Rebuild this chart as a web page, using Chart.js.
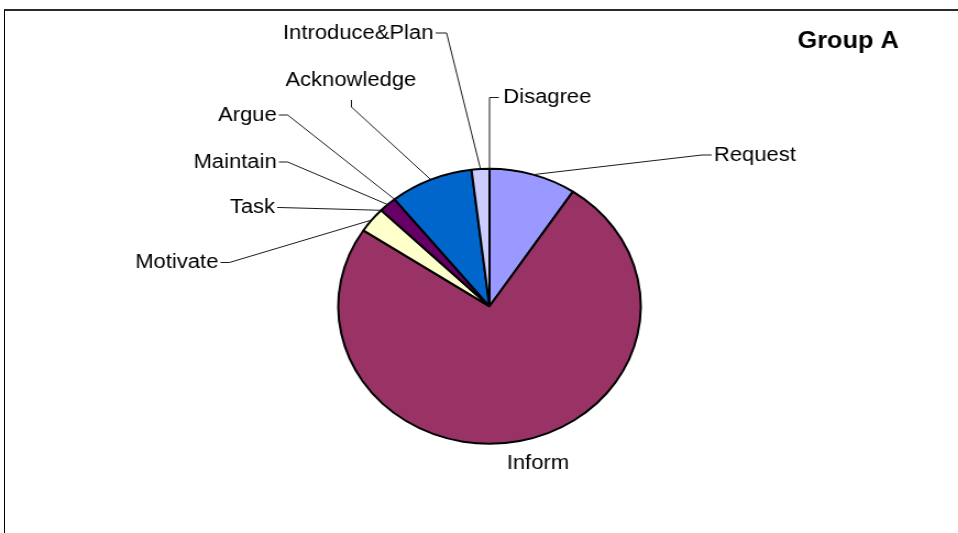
<!DOCTYPE html>
<html>
<head>
    <title>Group A</title>
    <script src="https://cdn.jsdelivr.net/npm/chart.js"></script>
    <style>
        body {
            margin: 0;
            padding: 0;
            overflow: hidden;
            background-color: #fff;
            font-family: 'Liberation Sans', Arial, sans-serif;
        }
        /* plot frame: only the top and left edges show */
        #frame {
            position: absolute;
            left: 4px;
            top: 9px;
            width: 960px;
            height: 530px;
            border-top: 2px solid #2a2a2a;
            border-left: 1px solid #000;
        }
        /* the pie is drawn in a narrower box and widened, so it comes out oval */
        #chart-box {
            position: absolute;
            left: 0;
            top: 0;
            width: 871px;
            height: 533px;
            transform: scaleX(1.1);
            transform-origin: 0 0;
        }
    </style>
</head>
<body>
    <div id="frame"></div>
    <div id="chart-box">
        <canvas id="myChart"></canvas>
    </div>

    <script>
        const categories = ['Request', 'Inform', 'Motivate', 'Task', 'Maintain', 'Argue', 'Acknowledge', 'Introduce&Plan', 'Disagree'];
        const shares = [9.3, 75.0, 3.0, 0, 1.9, 0, 8.9, 1.9, 0];
        const sliceColors = ['#9999FF', '#993366', '#FFFFCC', '#CCFFFF', '#660066', '#FF8080', '#0066CC', '#CCCCFF', '#000080'];

        // where each category name sits, and how its leader line runs back to the pie
        const labelPlacement = [
            { x: 649,   y: 155,   align: 'left',   leader: 'side',     gap: 9 },
            { x: 489,   y: 463,   align: 'center', leader: 'none' },
            { x: 198.5, y: 262.5, align: 'right',  leader: 'side',     gap: 8 },
            { x: 250,   y: 207.5, align: 'right',  leader: 'side',     gap: 2 },
            { x: 251.5, y: 162,   align: 'right',  leader: 'side',     gap: 8 },
            { x: 251.5, y: 115,   align: 'right',  leader: 'side',     gap: 8 },
            { x: 319,   y: 80,    align: 'center', leader: 'below' },
            { x: 394,   y: 33,    align: 'right',  leader: 'side',     gap: 10 },
            { x: 457.5, y: 97.5,  align: 'left',   leader: 'vertical' }
        ];

        const LABEL_FONT = '20px "Liberation Sans", Arial, sans-serif';

        const sliceLabels = {
            id: 'sliceLabels',
            afterDatasetsDraw(chart) {
                const ctx = chart.ctx;
                const meta = chart.getDatasetMeta(0);
                ctx.save();
                ctx.font = LABEL_FONT;
                ctx.fillStyle = '#000';
                ctx.strokeStyle = '#1a1a1a';
                ctx.lineWidth = 1;
                ctx.textBaseline = 'middle';

                meta.data.forEach((arc, i) => {
                    const p = labelPlacement[i];
                    const a = arc.getProps(['x', 'y', 'startAngle', 'endAngle', 'outerRadius'], true);
                    const mid = (a.startAngle + a.endAngle) / 2;
                    const px = a.x + Math.cos(mid) * a.outerRadius;
                    const py = a.y + Math.sin(mid) * a.outerRadius;

                    ctx.textAlign = p.align;
                    ctx.fillText(categories[i], p.x, p.y);

                    if (p.leader === 'none') return;
                    ctx.beginPath();
                    if (p.leader === 'side') {
                        const dir = p.align === 'right' ? 1 : -1;
                        const endX = p.x + dir * 2;
                        const elbowX = p.x + dir * (2 + p.gap);
                        ctx.moveTo(endX, p.y);
                        ctx.lineTo(elbowX, p.y);
                        ctx.lineTo(px, py);
                    } else if (p.leader === 'below') {
                        ctx.moveTo(p.x + 0.5, p.y + 20);
                        ctx.lineTo(p.x + 0.5, p.y + 27);
                        ctx.lineTo(px, py);
                    } else if (p.leader === 'vertical') {
                        ctx.moveTo(p.x - 4, p.y);
                        ctx.lineTo(px, p.y);
                        ctx.lineTo(px, py);
                    }
                    ctx.stroke();
                });
                ctx.restore();
            }
        };

        new Chart(document.getElementById('myChart'), {
            type: 'pie',
            data: {
                labels: categories,
                datasets: [{
                    data: shares,
                    backgroundColor: sliceColors,
                    borderColor: '#000',
                    borderWidth: 2,
                    radius: 137.5
                }]
            },
            options: {
                responsive: true,
                maintainAspectRatio: false,
                animation: false,
                layout: {
                    padding: { left: 73, right: 54, top: 28, bottom: 13 }
                },
                plugins: {
                    legend: { display: false },
                    tooltip: { enabled: false },
                    title: {
                        display: true,
                        text: 'Group A',
                        align: 'end',
                        color: '#000',
                        font: {
                            size: 23,
                            weight: 'bold',
                            family: '"Liberation Sans", Arial, sans-serif',
                            lineHeight: 1.2
                        },
                        padding: { top: 0, bottom: 37 }
                    }
                }
            },
            plugins: [sliceLabels]
        });
    </script>
</body>
</html>
